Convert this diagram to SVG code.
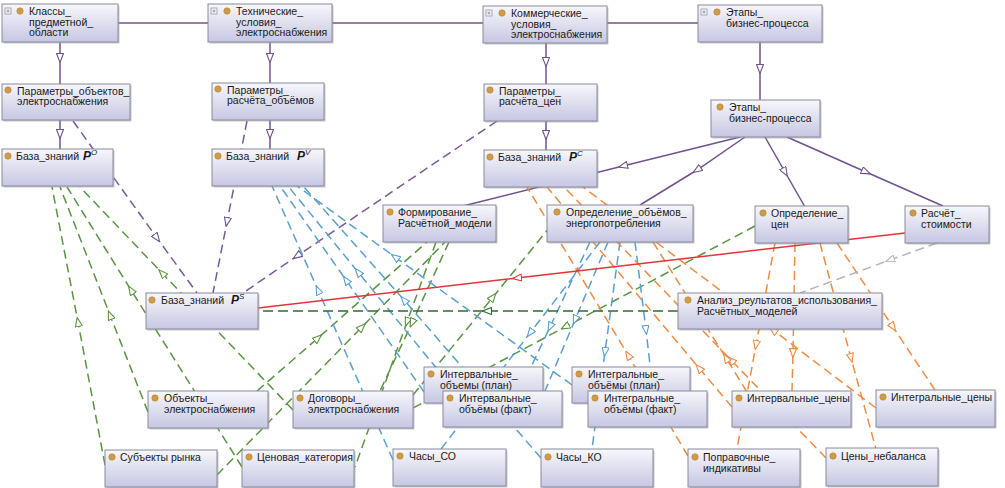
<svg xmlns="http://www.w3.org/2000/svg" width="1005" height="488" viewBox="0 0 1005 488">
<style>
.box{fill:url(#gr);stroke:#8a8a9c;stroke-width:1}
.sh{fill:#9a9aa6;opacity:.55}
.dot{fill:#d09b45;stroke:#b5843a;stroke-width:.6}
.ico{fill:#f4f4f8;stroke:#9a9aa6;stroke-width:.8}
.plus{stroke:#888;stroke-width:.8}
text{font-family:"Liberation Sans",Arial,sans-serif;font-size:10.5px;fill:#1a1a1a}
.c{fill:none;stroke-width:1.5}
.ps{stroke:#6f5390;marker-mid:url(#mp)}
.pd{stroke:#7a5a96;stroke-dasharray:9 5;marker-mid:url(#mp)}
.r{stroke:#e53337;marker-mid:url(#mr)}
.gy{stroke:#b5b5b5;stroke-dasharray:9 5;marker-mid:url(#my)}
.dg{stroke:#2f6b35;stroke-dasharray:10 5;marker-mid:url(#md)}
.g{stroke:#5a9442;stroke-dasharray:9 5;marker-mid:url(#mg)}
.b{stroke:#5b9fd0;stroke-dasharray:9 5;marker-mid:url(#mb)}
.o{stroke:#f08b42;stroke-dasharray:9 5;marker-mid:url(#mo)}
</style>
<defs>
<linearGradient id="gr" x1="0" y1="0" x2="0" y2="1">
<stop offset="0" stop-color="#f7f7fc"/><stop offset="1" stop-color="#c6c7e2"/>
</linearGradient>
<marker id="mp" viewBox="0 0 10 8" refX="5" refY="4" markerWidth="10" markerHeight="8" markerUnits="userSpaceOnUse" orient="auto"><path d="M0.5,0.5 L9.5,4 L0.5,7.5 Z" fill="#fff" stroke="#6f5390" stroke-width="1.1"/></marker>
<marker id="mr" viewBox="0 0 10 8" refX="5" refY="4" markerWidth="10" markerHeight="8" markerUnits="userSpaceOnUse" orient="auto"><path d="M0.5,0.5 L9.5,4 L0.5,7.5 Z" fill="#fff" stroke="#e53337" stroke-width="1.1"/></marker>
<marker id="my" viewBox="0 0 10 8" refX="5" refY="4" markerWidth="10" markerHeight="8" markerUnits="userSpaceOnUse" orient="auto"><path d="M0.5,0.5 L9.5,4 L0.5,7.5 Z" fill="#fff" stroke="#b5b5b5" stroke-width="1.1"/></marker>
<marker id="md" viewBox="0 0 10 8" refX="5" refY="4" markerWidth="10" markerHeight="8" markerUnits="userSpaceOnUse" orient="auto"><path d="M0.5,0.5 L9.5,4 L0.5,7.5 Z" fill="#fff" stroke="#2f6b35" stroke-width="1.1"/></marker>
<marker id="mg" viewBox="0 0 10 8" refX="5" refY="4" markerWidth="10" markerHeight="8" markerUnits="userSpaceOnUse" orient="auto"><path d="M0.5,0.5 L9.5,4 L0.5,7.5 Z" fill="#fff" stroke="#5a9442" stroke-width="1.1"/></marker>
<marker id="mb" viewBox="0 0 10 8" refX="5" refY="4" markerWidth="10" markerHeight="8" markerUnits="userSpaceOnUse" orient="auto"><path d="M0.5,0.5 L9.5,4 L0.5,7.5 Z" fill="#fff" stroke="#5b9fd0" stroke-width="1.1"/></marker>
<marker id="mo" viewBox="0 0 10 8" refX="5" refY="4" markerWidth="10" markerHeight="8" markerUnits="userSpaceOnUse" orient="auto"><path d="M0.5,0.5 L9.5,4 L0.5,7.5 Z" fill="#fff" stroke="#f08b42" stroke-width="1.1"/></marker>
</defs>
<rect width="1005" height="488" fill="#fff"/>
<g id="connectors">
<path class="c ps" d="M118,23 L698,23"/>
<path class="c ps" d="M60,42 L60,58 L60,84"/>
<path class="c ps" d="M60,120 L60,134 L60,149"/>
<path class="c ps" d="M270,42 L270,58 L270,83"/>
<path class="c ps" d="M270,120 L270,134 L270,149"/>
<path class="c ps" d="M546,43 L546,62 L546,84"/>
<path class="c ps" d="M546,121 L546,135 L546,150"/>
<path class="c ps" d="M760,42 L760,69 L760,100"/>
<path class="c ps" d="M740,137 L623,166 L463,206"/>
<path class="c ps" d="M745,137 L697,170 L640,205"/>
<path class="c ps" d="M765,137 L785,172 L805,207"/>
<path class="c ps" d="M787,137 L866,172 L943,206"/>
<path class="c pd" d="M73,121 L157,238 L197,293"/>
<path class="c pd" d="M247,121 L227,222 L213,293"/>
<path class="c pd" d="M497,121 L297,256 L243,293"/>
<path class="c g" d="M105,465 L78,322 L52,187"/>
<path class="c g" d="M148,412 L110,315 L60,187"/>
<path class="c g" d="M242,467 L131,290 L67,187"/>
<path class="c g" d="M293,410 L162,273 L80,187"/>
<path class="c g" d="M257,391 L318,338 L427,242"/>
<path class="c g" d="M217,475 L362,327 L445,242"/>
<path class="c g" d="M436,242 L407,322 L355,467"/>
<path class="c g" d="M449,242 L412,323 L380,391"/>
<path class="c g" d="M413,395 L493,297 L549,228"/>
<path class="c g" d="M755,226 L565,327 L413,408"/>
<path class="c b" d="M393,460 L318,290 L272,186"/>
<path class="c b" d="M424,392 L346,280 L280,186"/>
<path class="c b" d="M455,391 L358,272 L288,186"/>
<path class="c b" d="M572,385 L395,257 L297,186"/>
<path class="c b" d="M541,458 L404,300 L303,186"/>
<path class="c b" d="M590,242 L550,327 L531,367"/>
<path class="c b" d="M600,242 L530,333 L441,449"/>
<path class="c b" d="M608,242 L575,320 L545,391"/>
<path class="c b" d="M620,242 L605,352 L592,449"/>
<path class="c b" d="M635,242 L646,330 L653,391"/>
<path class="c o" d="M688,456 L628,355 L527,187"/>
<path class="c o" d="M732,407 L699,368 L547,187"/>
<path class="c o" d="M826,458 L731,360 L564,187"/>
<path class="c o" d="M876,408 L773,330 L583,187"/>
<path class="c o" d="M747,392 L726,358 L653,242"/>
<path class="c o" d="M775,243 L756,345 L737,449"/>
<path class="c o" d="M795,243 L793,353 L792,391"/>
<path class="c o" d="M820,243 L851,358 L876,449"/>
<path class="c o" d="M837,243 L893,327 L935,390"/>
<path class="c r" d="M905,233 L517,278 L258,308"/>
<path class="c gy" d="M937,243 L890,260 L800,293"/>
<path class="c dg" d="M678,311 L487,311 L258,311"/>
</g>
<g id="n-klassy"><rect class="sh" x="3.5" y="5.5" width="116" height="38"/><rect class="box" x="2" y="4" width="116" height="38"/><rect class="ico" x="5" y="8" width="6" height="6"/><path class="plus" d="M6.5,11 H9.5 M8,9.5 V12.5"/><circle class="dot" cx="20" cy="11" r="3.2"/><text x="29" y="15">Классы_<tspan x="29" dy="10.7">предметной_</tspan><tspan x="29" dy="10.7">области</tspan></text></g>
<g id="n-tech"><rect class="sh" x="209.5" y="5.5" width="124" height="38"/><rect class="box" x="208" y="4" width="124" height="38"/><rect class="ico" x="211" y="8" width="6" height="6"/><path class="plus" d="M212.5,11 H215.5 M214,9.5 V12.5"/><circle class="dot" cx="227" cy="11" r="3.2"/><text x="236" y="15">Технические_<tspan x="236" dy="10.7">условия_</tspan><tspan x="236" dy="10.7">электроснабжения</tspan></text></g>
<g id="n-komm"><rect class="sh" x="484.5" y="7.5" width="124" height="37"/><rect class="box" x="483" y="6" width="124" height="37"/><rect class="ico" x="486" y="10" width="6" height="6"/><path class="plus" d="M487.5,13 H490.5 M489,11.5 V14.5"/><circle class="dot" cx="502" cy="13" r="3.2"/><text x="511" y="17">Коммерческие_<tspan x="511" dy="10.7">условия_</tspan><tspan x="511" dy="10.7">электроснабжения</tspan></text></g>
<g id="n-etapy1"><rect class="sh" x="699.5" y="6.5" width="124" height="37"/><rect class="box" x="698" y="5" width="124" height="37"/><rect class="ico" x="701" y="9" width="6" height="6"/><path class="plus" d="M702.5,12 H705.5 M704,10.5 V13.5"/><circle class="dot" cx="717" cy="12" r="3.2"/><text x="726" y="16">Этапы_<tspan x="726" dy="10.7">бизнес-процесса</tspan></text></g>
<g id="n-par-obj"><rect class="sh" x="3.5" y="85.5" width="128" height="36"/><rect class="box" x="2" y="84" width="128" height="36"/><circle class="dot" cx="8" cy="90" r="3.2"/><text x="17" y="94.5">Параметры_объектов_<tspan x="17" dy="10.7">электроснабжения</tspan></text></g>
<g id="n-par-vol"><rect class="sh" x="213.5" y="84.5" width="112" height="37"/><rect class="box" x="212" y="83" width="112" height="37"/><circle class="dot" cx="218" cy="89" r="3.2"/><text x="227" y="93.5">Параметры_<tspan x="227" dy="10.7">расчёта_объёмов</tspan></text></g>
<g id="n-par-price"><rect class="sh" x="485.5" y="85.5" width="113" height="37"/><rect class="box" x="484" y="84" width="113" height="37"/><circle class="dot" cx="490" cy="90" r="3.2"/><text x="499" y="94.5">Параметры_<tspan x="499" dy="10.7">расчёта_цен</tspan></text></g>
<g id="n-etapy2"><rect class="sh" x="712.5" y="101.5" width="109" height="37"/><rect class="box" x="711" y="100" width="109" height="37"/><circle class="dot" cx="720" cy="107" r="3.2"/><text x="729" y="111">Этапы_<tspan x="729" dy="10.7">бизнес-процесса</tspan></text></g>
<g id="n-po"><rect class="sh" x="3.5" y="150.5" width="111" height="37"/><rect class="box" x="2" y="149" width="111" height="37"/><circle class="dot" cx="8" cy="156" r="3.2"/><text x="16" y="160">База_знаний <tspan x="83" font-weight="bold" font-style="italic" font-size="12px">P</tspan><tspan font-size="8px" dy="-5" font-style="italic">O</tspan></text></g>
<g id="n-pv"><rect class="sh" x="213.5" y="150.5" width="112" height="37"/><rect class="box" x="212" y="149" width="112" height="37"/><circle class="dot" cx="218" cy="156" r="3.2"/><text x="226" y="160">База_знаний <tspan x="297" font-weight="bold" font-style="italic" font-size="12px">P</tspan><tspan font-size="8px" dy="-5" font-style="italic">V</tspan></text></g>
<g id="n-pc"><rect class="sh" x="485.5" y="151.5" width="113" height="37"/><rect class="box" x="484" y="150" width="113" height="37"/><circle class="dot" cx="490" cy="157" r="3.2"/><text x="498" y="161">База_знаний <tspan x="569" font-weight="bold" font-style="italic" font-size="12px">P</tspan><tspan font-size="8px" dy="-5" font-style="italic">C</tspan></text></g>
<g id="n-form"><rect class="sh" x="384.5" y="206.5" width="113" height="37"/><rect class="box" x="383" y="205" width="113" height="37"/><circle class="dot" cx="390" cy="212" r="3.2"/><text x="398" y="216">Формирование_<tspan x="398" dy="10.7">Расчётной_модели</tspan></text></g>
<g id="n-opr-vol"><rect class="sh" x="548.5" y="206.5" width="146" height="37"/><rect class="box" x="547" y="205" width="146" height="37"/><circle class="dot" cx="557" cy="212" r="3.2"/><text x="566" y="216">Определение_объёмов_<tspan x="566" dy="10.7">энергопотребления</tspan></text></g>
<g id="n-opr-price"><rect class="sh" x="756.5" y="207.5" width="93" height="37"/><rect class="box" x="755" y="206" width="93" height="37"/><circle class="dot" cx="763" cy="213" r="3.2"/><text x="771" y="217">Определение_<tspan x="771" dy="10.7">цен</tspan></text></g>
<g id="n-rasch"><rect class="sh" x="906.5" y="207.5" width="84" height="37"/><rect class="box" x="905" y="206" width="84" height="37"/><circle class="dot" cx="913" cy="213" r="3.2"/><text x="921" y="217">Расчёт_<tspan x="921" dy="10.7">стоимости</tspan></text></g>
<g id="n-ps"><rect class="sh" x="147.5" y="294.5" width="112" height="36"/><rect class="box" x="146" y="293" width="112" height="36"/><circle class="dot" cx="152" cy="300" r="3.2"/><text x="161" y="304">База_знаний <tspan x="231" font-weight="bold" font-style="italic" font-size="12px">P</tspan><tspan font-size="8px" dy="-5" font-style="italic">S</tspan></text></g>
<g id="n-analiz"><rect class="sh" x="679.5" y="294.5" width="204" height="36"/><rect class="box" x="678" y="293" width="204" height="36"/><circle class="dot" cx="688" cy="300" r="3.2"/><text x="697" y="304">Анализ_реультатов_использования_<tspan x="697" dy="10.7">Расчётных_моделей</tspan></text></g>
<g id="n-obj"><rect class="sh" x="149.5" y="392.5" width="120" height="37"/><rect class="box" x="148" y="391" width="120" height="37"/><circle class="dot" cx="155" cy="398" r="3.2"/><text x="164" y="402">Объекты_<tspan x="164" dy="10.7">электроснабжения</tspan></text></g>
<g id="n-dog"><rect class="sh" x="294.5" y="392.5" width="120" height="37"/><rect class="box" x="293" y="391" width="120" height="37"/><circle class="dot" cx="300" cy="398" r="3.2"/><text x="308" y="402">Договоры_<tspan x="308" dy="10.7">электроснабжения</tspan></text></g>
<g id="n-subj"><rect class="sh" x="106.5" y="451.5" width="112" height="37"/><rect class="box" x="105" y="450" width="112" height="37"/><circle class="dot" cx="112" cy="457" r="3.2"/><text x="120" y="461">Субъекты рынка</text></g>
<g id="n-price-cat"><rect class="sh" x="243.5" y="451.5" width="112" height="37"/><rect class="box" x="242" y="450" width="112" height="37"/><circle class="dot" cx="249" cy="457" r="3.2"/><text x="257" y="461">Ценовая_категория</text></g>
<g id="n-int-vol-plan"><rect class="sh" x="425.5" y="368.5" width="119" height="36"/><rect class="box" x="424" y="367" width="119" height="36"/><circle class="dot" cx="431" cy="374" r="3.2"/><text x="440" y="378">Интервальные_<tspan x="440" dy="10.7">объемы (план)</tspan></text></g>
<g id="n-int-vol-fact"><rect class="sh" x="444.5" y="392.5" width="119" height="36"/><rect class="box" x="443" y="391" width="119" height="36"/><circle class="dot" cx="450" cy="398" r="3.2"/><text x="459" y="402">Интервальные_<tspan x="459" dy="10.7">объёмы (факт)</tspan></text></g>
<g id="n-chasy-so"><rect class="sh" x="394.5" y="450.5" width="113" height="37"/><rect class="box" x="393" y="449" width="113" height="37"/><circle class="dot" cx="400" cy="456" r="3.2"/><text x="409" y="460">Часы_СО</text></g>
<g id="n-integ-vol-plan"><rect class="sh" x="573.5" y="368.5" width="118" height="36"/><rect class="box" x="572" y="367" width="118" height="36"/><circle class="dot" cx="579" cy="374" r="3.2"/><text x="588" y="378">Интегральные_<tspan x="588" dy="10.7">объёмы (план)</tspan></text></g>
<g id="n-integ-vol-fact"><rect class="sh" x="589.5" y="392.5" width="119" height="36"/><rect class="box" x="588" y="391" width="119" height="36"/><circle class="dot" cx="595" cy="398" r="3.2"/><text x="604" y="402">Интегральные_<tspan x="604" dy="10.7">объёмы (факт)</tspan></text></g>
<g id="n-chasy-ko"><rect class="sh" x="542.5" y="450.5" width="112" height="38"/><rect class="box" x="541" y="449" width="112" height="38"/><circle class="dot" cx="548" cy="457" r="3.2"/><text x="556" y="461">Часы_КО</text></g>
<g id="n-int-price"><rect class="sh" x="733.5" y="392.5" width="119" height="36"/><rect class="box" x="732" y="391" width="119" height="36"/><circle class="dot" cx="739" cy="398" r="3.2"/><text x="747" y="402">Интервальные_цены</text></g>
<g id="n-integ-price"><rect class="sh" x="877.5" y="391.5" width="119" height="37"/><rect class="box" x="876" y="390" width="119" height="37"/><circle class="dot" cx="883" cy="397" r="3.2"/><text x="891" y="401">Интегральные_цены</text></g>
<g id="n-popr"><rect class="sh" x="689.5" y="450.5" width="112" height="38"/><rect class="box" x="688" y="449" width="112" height="38"/><circle class="dot" cx="695" cy="457" r="3.2"/><text x="703" y="461">Поправочные_<tspan x="703" dy="10.7">индикативы</tspan></text></g>
<g id="n-nebal"><rect class="sh" x="827.5" y="449.5" width="112" height="38"/><rect class="box" x="826" y="448" width="112" height="38"/><circle class="dot" cx="833" cy="456" r="3.2"/><text x="841" y="460">Цены_небаланса</text></g>
</svg>
